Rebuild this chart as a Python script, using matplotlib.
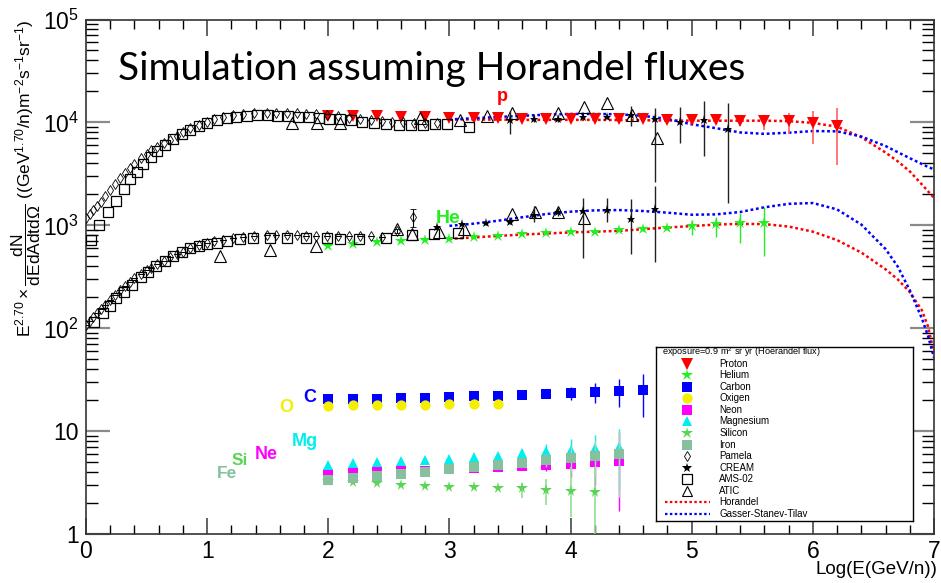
import numpy as np
import matplotlib
matplotlib.use("Agg")
import matplotlib.pyplot as plt
from matplotlib.ticker import MultipleLocator, LogLocator, FuncFormatter, NullFormatter

plt.rcParams['font.family'] = ['Liberation Sans', 'DejaVu Sans']
plt.rcParams['mathtext.fontset'] = 'custom'
plt.rcParams['mathtext.rm'] = 'Liberation Sans'
plt.rcParams['mathtext.it'] = 'Liberation Sans'
plt.rcParams['mathtext.default'] = 'regular'

# ---------------- simulated fluxes (exposure 0.9 m^2 sr yr) ----------------
proton_x = [2.0, 2.2, 2.4, 2.6, 2.8, 3.0, 3.2, 3.4, 3.6, 3.8, 4.0, 4.2, 4.4, 4.6,
            4.8, 5.0, 5.2, 5.4, 5.6, 5.8, 6.0, 6.2]
proton_y = [11500, 11500, 11500, 11400, 11400, 11100, 11100, 11000, 10800, 10700,
            10700, 10700, 10700, 10700, 10500, 10500, 10500, 10400, 10400, 10300,
            9900, 9200]
proton_lo = [0, 0, 0, 0, 0, 0, 0, 0, 0, 0, 0, 0, 0, 0, 0, 0, 700, 1200, 2000, 2500, 3750, 5300]
proton_hi = [0, 0, 0, 0, 0, 0, 0, 0, 0, 0, 0, 0, 0, 0, 0, 0, 500, 950, 1100, 2100, 2900, 4500]

helium_x = [2.0, 2.2, 2.4, 2.6, 2.8, 3.0, 3.2, 3.4, 3.6, 3.8, 4.0, 4.2, 4.4, 4.6,
            4.8, 5.0, 5.2, 5.4, 5.6]
helium_y = [630, 658, 693, 704, 720, 736, 764, 793, 818, 836, 855, 867, 897, 921,
            943, 985, 1023, 1045, 1045]
helium_lo = [0, 0, 0, 0, 0, 0, 0, 0, 0, 0, 0, 0, 0, 40, 40, 180, 250, 377, 542]
helium_hi = [0, 0, 0, 0, 0, 0, 0, 0, 0, 0, 0, 0, 0, 40, 40, 140, 190, 280, 472]

carbon_x = [2.0, 2.2, 2.4, 2.6, 2.8, 3.0, 3.2, 3.4, 3.6, 3.8, 4.0, 4.2, 4.4, 4.6]
carbon_y = [20.5, 20.6, 20.8, 21.0, 21.3, 21.6, 21.8, 22.2, 22.7, 23.0, 23.7, 24.2, 24.6, 25.2]
carbon_lo = [0, 0, 0, 0, 0, 0, 0, 0, 0, 0.8, 3.6, 5.5, 7.5, 11.5]
carbon_hi = [0, 0, 0, 0, 0, 0, 0, 0, 0, 0.8, 3.4, 5.0, 7.4, 10.5]

oxygen_x = [2.0, 2.2, 2.4, 2.6, 2.8, 3.0, 3.2, 3.4]
oxygen_y = [17.8, 17.9, 18.0, 18.1, 18.2, 18.4, 18.5, 18.6]

heavy_x = [2.0, 2.2, 2.4, 2.6, 2.8, 3.0, 3.2, 3.4, 3.6, 3.8, 4.0, 4.2, 4.4]
neon_y = [3.82, 3.91, 4.0, 4.12, 4.15, 4.28, 4.37, 4.47, 4.6, 4.71, 4.82, 5.0, 5.15]
neon_lo = [0, 0, 0, 0, 0, 0, 0, 0, 0.3, 0.6, 1.2, 2.0, 3.46]
neon_hi = [0, 0, 0, 0, 0, 0, 0, 0, 0.3, 0.6, 1.2, 2.0, 4.75]
magnesium_y = [4.74, 4.89, 5.0, 5.15, 5.27, 5.38, 5.6, 5.78, 6.11, 6.51, 6.58, 6.84, 6.99]
magnesium_lo = [0, 0, 0, 0, 0, 0, 0, 0, 0.6, 1.0, 1.4, 2.0, 4.3]
magnesium_hi = [0, 0, 0, 0, 0, 0, 0, 0, 0.6, 1.0, 1.8, 2.4, 3.5]
iron_y = [3.34, 3.52, 3.66, 3.85, 4.03, 4.28, 4.5, 4.7, 4.96, 5.27, 5.47, 5.8, 6.02]
iron_lo = [0, 0, 0, 0, 0, 0, 0, 0, 0.4, 0.8, 1.4, 2.1, 3.7]
iron_hi = [0, 0, 0, 0, 0, 0, 0, 0, 0.4, 0.8, 1.7, 2.5, 4.0]

silicon_x = [2.0, 2.2, 2.4, 2.6, 2.8, 3.0, 3.2, 3.4, 3.6, 3.8, 4.0, 4.2]
silicon_y = [3.3, 3.24, 3.17, 3.03, 2.96, 2.9, 2.86, 2.81, 2.8, 2.69, 2.63, 2.59]
silicon_lo = [0, 0, 0, 0, 0, 0, 0, 0, 0.56, 0.77, 1.15, 2.55]
silicon_hi = [0, 0, 0, 0, 0, 0, 0, 0, 0.33, 0.75, 1.9, 1.9]

# ---------------- measurements ----------------
pamela_x = [0.00, 0.03, 0.06, 0.09, 0.12, 0.16, 0.20, 0.24, 0.28, 0.32, 0.36, 0.40,
            0.45, 0.50, 0.54, 0.59, 0.64, 0.69, 0.75, 0.80, 0.86, 0.93, 1.00, 1.06,
            1.13, 1.21, 1.30, 1.39, 1.49, 1.57, 1.66, 1.74, 1.82, 1.90, 1.99, 2.08,
            2.17, 2.26, 2.35, 2.44, 2.53, 2.62, 2.71, 2.80, 2.90]
pamela_p = [1170, 1280, 1410, 1540, 1690, 1930, 2200, 2520, 2860, 3210, 3580, 3980,
            4470, 4950, 5380, 5820, 6250, 6760, 7360, 8000, 8750, 9480, 10140, 10750,
            11350, 11750, 12040, 12250, 12400, 12450, 12400, 12300, 12200, 12000, 11780,
            11450, 11100, 10800, 10600, 10400, 10200, 10050, 9950, 9850, 9800]
pamela_he_x = [0.00, 0.03, 0.06, 0.09, 0.12, 0.16, 0.20, 0.24, 0.28, 0.32, 0.36, 0.40,
               0.45, 0.50, 0.54, 0.59, 0.64, 0.69, 0.75, 0.80, 0.86, 0.93, 1.00, 1.06,
               1.13, 1.21, 1.30, 1.39, 1.49, 1.57, 1.66, 1.74, 1.82, 1.90, 1.99, 2.08,
               2.17, 2.26, 2.35, 2.44, 2.57, 2.70]
pamela_he = [108, 118, 130, 141, 153, 170, 188, 211, 235, 259, 284, 308, 337, 365, 388,
             420, 452, 489, 522, 553, 598, 640, 675, 700, 725, 755, 772, 788, 800, 805,
             805, 802, 797, 793, 790, 787, 785, 783, 782, 780, 887, 1212]
pamela_he_lo = [0] * 40 + [35, 240]
pamela_he_hi = [0] * 40 + [35, 220]

cream_p_x = [3.5, 3.7, 3.9, 4.1, 4.3, 4.5, 4.7, 4.9, 5.1, 5.3]
cream_p = [10500, 10900, 10900, 11300, 11400, 11800, 10900, 10100, 10500, 8550]
cream_p_lo = [2700, 800, 800, 600, 600, 2600, 8250, 3760, 5790, 6890]
cream_p_hi = [2500, 800, 800, 600, 600, 2600, 2800, 4100, 5700, 6750]
cream_he_x = [2.9, 3.1, 3.3, 3.5, 3.7, 3.9, 4.1, 4.3, 4.5, 4.7]
cream_he = [969, 1030, 1060, 1083, 1260, 1355, 1377, 1410, 1143, 1430]
cream_he_lo = [40, 40, 50, 60, 180, 130, 899, 330, 617, 993]
cream_he_hi = [40, 40, 50, 60, 270, 130, 453, 420, 647, 980]

ams_p_x = [0.04, 0.11, 0.18, 0.25, 0.31, 0.36, 0.42, 0.47, 0.54, 0.59, 0.65, 0.72, 0.79,
           0.86, 0.93, 1.00, 1.08, 1.16, 1.24, 1.33, 1.41, 1.50, 1.58, 1.67, 1.75, 1.84,
           1.92, 2.01, 2.10, 2.19, 2.28, 2.38, 2.48, 2.58, 2.68, 2.78, 2.88, 2.98, 3.16]
ams_p = [720, 1010, 1340, 1730, 2250, 2800, 3310, 3940, 4630, 5300, 6020, 6840, 7650,
         8410, 9200, 9900, 10530, 10940, 11350, 11600, 11700, 11750, 11600, 11450, 11350,
         11250, 11100, 10900, 10700, 10500, 10100, 9800, 9620, 9500, 9400, 9500, 9700,
         9600, 9060]
ams_he_x = [0.07, 0.14, 0.20, 0.25, 0.31, 0.38, 0.45, 0.51, 0.58, 0.65, 0.72, 0.79, 0.86,
            0.93, 1.00, 1.08, 1.16, 1.27, 1.38, 1.52, 1.66, 1.82, 1.99, 2.10, 2.25, 2.48,
            2.69, 2.87, 3.07]
ams_he = [116, 140, 165, 196, 226, 263, 317, 355, 403, 453, 504, 555, 598, 630, 658, 678,
          709, 731, 748, 758, 758, 748, 748, 745, 740, 748, 805, 818, 836]

atic_p_x = [1.70, 1.91, 2.10, 2.76, 3.09, 3.31, 3.52, 3.90, 4.11, 4.30, 4.51, 4.71]
atic_p = [9780, 9780, 9780, 10940, 10530, 11500, 12220, 12400, 14170, 15290, 11780, 7000]
atic_he_x = [1.11, 1.52, 1.90, 2.57, 2.69, 2.91, 3.12, 3.52, 3.71, 3.90, 4.11]
atic_he = [504, 576, 630, 914, 824, 867, 914, 1288, 1355, 1355, 1170]

# ---------------- model curves ----------------
model_x = [3.0, 3.2, 3.4, 3.6, 3.8, 4.0, 4.2, 4.4, 4.6, 4.8, 5.0, 5.2, 5.4, 5.6, 5.8,
           6.0, 6.2, 6.4, 6.6, 6.7, 6.8, 6.9, 6.95, 7.0]
horandel_p = [10700, 10700, 10650, 10600, 10600, 10600, 10600, 10550, 10500, 10450,
              10400, 10400, 10400, 10400, 10300, 9900, 9100, 7200, 5100, 4200, 3350,
              2500, 2150, 1850]
gst_p = [10700, 11000, 11300, 11600, 11900, 12100, 12100, 12000, 11600, 10800, 9600,
         8800, 8000, 7750, 7950, 8250, 8200, 7300, 5900, 5150, 4500, 3950, 3700, 3500]
horandel_he = [740, 765, 790, 815, 835, 855, 870, 885, 920, 955, 985, 1020, 1035, 1030,
               975, 870, 720, 545, 375, 300, 225, 150, 105, 58]
gst_he = [990, 1040, 1110, 1200, 1290, 1360, 1400, 1410, 1380, 1330, 1270, 1280, 1350,
          1500, 1620, 1650, 1430, 1020, 590, 400, 235, 125, 85, 52]

# species tags
tag_text = ['p', 'He', 'C', 'O', 'Mg', 'Ne', 'Si', 'Fe']
tag_x = [3.44, 2.99, 1.85, 1.65, 1.81, 1.49, 1.27, 1.165]
tag_y = [18000, 1180, 21.5, 17.2, 7.9, 5.9, 5.25, 3.9]
tag_size = [13, 14, 13, 13, 13, 13, 12.5, 12.5]

# colours
RED = '#ff0000'
HE_GREEN = '#22ee22'
BLUE = '#0000ff'
YELLOW = '#f4ee00'
MAGENTA = '#ff00ff'
CYAN = '#00eeee'
SI_GREEN = '#59d454'
FE_GREEN = '#86c09e'
tag_color = [RED, HE_GREEN, BLUE, YELLOW, CYAN, MAGENTA, SI_GREEN, FE_GREEN]

W, H = 941, 583
fig = plt.figure(figsize=(W / 100, H / 100), dpi=100)
L, R, T, B = 86, 934, 19.5, 534.3
ax = fig.add_axes([L / W, (H - B) / H, (R - L) / W, (B - T) / H])
ax.set_xlim(0, 7)
ax.set_yscale('log')
ax.set_ylim(1, 1e5)


def errs(lo, hi):
    return [lo, hi]


# model curves (dotted)
dot = (0, (1.1, 1.1))
for yv, c in [(horandel_p, RED), (gst_p, BLUE), (horandel_he, RED), (gst_he, BLUE)]:
    ax.plot(model_x, yv, color=c, lw=1.8, ls=dot, zorder=2)

# simulated species
ax.errorbar(proton_x, proton_y, yerr=errs(proton_lo, proton_hi), fmt='v', color=RED,
            ms=8, mew=0, ecolor='#ff6060', elinewidth=1.2, capsize=2, zorder=3)
ax.errorbar(helium_x, helium_y, yerr=errs(helium_lo, helium_hi), fmt='*', color=HE_GREEN,
            ms=9, mew=0, ecolor=HE_GREEN, elinewidth=1.0, capsize=2, zorder=3)
ax.errorbar(carbon_x, carbon_y, yerr=errs(carbon_lo, carbon_hi), fmt='s', color=BLUE,
            ms=7.2, mew=0, ecolor=BLUE, elinewidth=1.0, capsize=2, zorder=3)
ax.plot(oxygen_x, oxygen_y, 'o', color=YELLOW, ms=7.4, mew=0, zorder=3.1)
ax.errorbar(heavy_x, neon_y, yerr=errs(neon_lo, neon_hi), fmt='s', color=MAGENTA,
            ms=7.8, mew=0, ecolor=MAGENTA, elinewidth=1.0, capsize=2, zorder=3)
ax.errorbar(heavy_x, magnesium_y, yerr=errs(magnesium_lo, magnesium_hi), fmt='^', color=CYAN,
            ms=7.2, mew=0, ecolor=CYAN, elinewidth=1.0, capsize=2, zorder=3.1)
ax.errorbar(silicon_x, silicon_y, yerr=errs(silicon_lo, silicon_hi), fmt='*', color=SI_GREEN,
            ms=8.5, mew=0, ecolor='#90e090', elinewidth=1.2, capsize=2, zorder=3.2)
ax.errorbar(heavy_x, iron_y, yerr=errs(iron_lo, iron_hi), fmt='s', color=FE_GREEN,
            ms=7.8, mew=0, ecolor='#a8d4b8', elinewidth=1.0, capsize=2, zorder=3.3)

# measurements
open_kw = dict(mfc='none', mec='black', ls='none', zorder=4)
ax.plot(pamela_x, pamela_p, 'd', ms=5, mew=0.6, **open_kw)
ax.errorbar(pamela_he_x, pamela_he, yerr=errs(pamela_he_lo, pamela_he_hi), fmt='d', ms=5,
            mew=0.6, mfc='none', mec='black', ecolor='black', elinewidth=0.8, capsize=2, zorder=4)
ax.plot(ams_p_x, ams_p, 's', ms=6.5, mew=0.9, **open_kw)
ax.plot(ams_he_x, ams_he, 's', ms=6.5, mew=0.9, **open_kw)
ax.plot(atic_p_x, atic_p, '^', ms=8, mew=0.8, **open_kw)
ax.plot(atic_he_x, atic_he, '^', ms=8, mew=0.8, **open_kw)
ax.errorbar(cream_p_x, cream_p, yerr=errs(cream_p_lo, cream_p_hi), fmt='*', color='black',
            ms=6.5, mew=0, ecolor='#222222', elinewidth=1.0, capsize=2, zorder=4.5)
ax.errorbar(cream_he_x, cream_he, yerr=errs(cream_he_lo, cream_he_hi), fmt='*', color='black',
            ms=6.5, mew=0, ecolor='#222222', elinewidth=1.0, capsize=2, zorder=4.5)

# species tags
for t, x, y, c, s in zip(tag_text, tag_x, tag_y, tag_color, tag_size):
    ax.text(x, y, t, color=c, fontsize=s, fontweight='bold', ha='center', va='center', zorder=5)

# axes styling
ax.xaxis.set_major_locator(MultipleLocator(1))
ax.xaxis.set_minor_locator(MultipleLocator(0.2))
ax.yaxis.set_major_locator(LogLocator(base=10, numticks=10))
ax.yaxis.set_minor_locator(LogLocator(base=10, subs=np.arange(2, 10), numticks=100))
ax.yaxis.set_minor_formatter(NullFormatter())


def ylab(v, pos):
    e = int(round(np.log10(v)))
    if e == 0:
        return '1'
    if e == 1:
        return '10'
    return r'$10^{%d}$' % e


ax.yaxis.set_major_formatter(FuncFormatter(ylab))
ax.xaxis.set_major_formatter(FuncFormatter(lambda v, p: '%d' % round(v)))
ax.tick_params(axis='x', which='major', direction='in', length=11.5, width=1.3,
               color='#555555', top=True, labelsize=16.5, pad=4)
ax.tick_params(axis='x', which='minor', direction='in', length=6.2, width=1.0,
               color='black', top=True)
ax.tick_params(axis='y', which='major', direction='in', length=17, width=1.6,
               color='#8a8a8a', right=True, labelsize=16.5, pad=5)
ax.tick_params(axis='y', which='minor', direction='in', length=8.8, width=1.0,
               color='black', right=True)
for s in ax.spines.values():
    s.set_linewidth(1.2)
    s.set_color('#333333')

# legend box
lg = fig.add_axes([656 / W, (H - 521) / H, 257 / W, 174 / H])
lg.set_xlim(0, 257)
lg.set_ylim(174, 0)
lg.set_xticks([])
lg.set_yticks([])
for s in lg.spines.values():
    s.set_linewidth(1.0)
    s.set_color('black')
lg.patch.set_facecolor('white')
lg.set_zorder(10)
lg.text(5.5, 5.6, r'exposure=0.9 m$^{2}$ sr yr (Hoerandel flux)', fontsize=6.6,
        ha='left', va='center')
leg_labels = ['Proton', 'Helium', 'Carbon', 'Oxigen', 'Neon', 'Magnesium', 'Silicon',
              'Iron', 'Pamela', 'CREAM', 'AMS-02', 'ATIC', 'Horandel', 'Gasser-Stanev-Tilav']
leg_style = [
    dict(marker='v', color=RED, ms=8, mew=0),
    dict(marker='*', color=HE_GREEN, ms=9, mew=0),
    dict(marker='s', color=BLUE, ms=7.2, mew=0),
    dict(marker='o', color=YELLOW, ms=7.4, mew=0),
    dict(marker='s', color=MAGENTA, ms=7.4, mew=0),
    dict(marker='^', color=CYAN, ms=7.2, mew=0),
    dict(marker='*', color=SI_GREEN, ms=9, mew=0),
    dict(marker='s', color=FE_GREEN, ms=7.6, mew=0),
    dict(marker='d', mfc='none', mec='black', ms=5, mew=0.6),
    dict(marker='*', color='black', ms=7, mew=0),
    dict(marker='s', mfc='none', mec='black', ms=6.5, mew=0.9),
    dict(marker='^', mfc='none', mec='black', ms=7.5, mew=0.8),
    None, None,
]
for i, (lab, st) in enumerate(zip(leg_labels, leg_style)):
    yy = 16.7 + 11.55 * i
    if st is None:
        c = RED if lab == 'Horandel' else BLUE
        lg.plot([9, 54], [yy, yy], color=c, lw=1.6, ls=dot)
    else:
        lg.plot([31], [yy], ls='none', **st)
    lg.text(63.3, yy, lab, fontsize=7, ha='left', va='center')

# titles and axis labels
fig.text(118 / W, (H - 80) / H, 'Simulation assuming Horandel fluxes', family='Lato',
         fontsize=28, ha='left', va='baseline')
fig.text(937 / W, (H - 569) / H, 'Log(E(GeV/n))', fontsize=13.5, ha='right', va='center')
fig.text(26 / W, (H - 178) / H,
         r'$E^{2.70}\times\dfrac{dN}{dEdAdtd\Omega}$ ((GeV$^{1.70}$/n)m$^{-2}$s$^{-1}$sr$^{-1}$)',
         fontsize=12.5, rotation=90, ha='center', va='center')

fig.savefig('out.png', dpi=100)
